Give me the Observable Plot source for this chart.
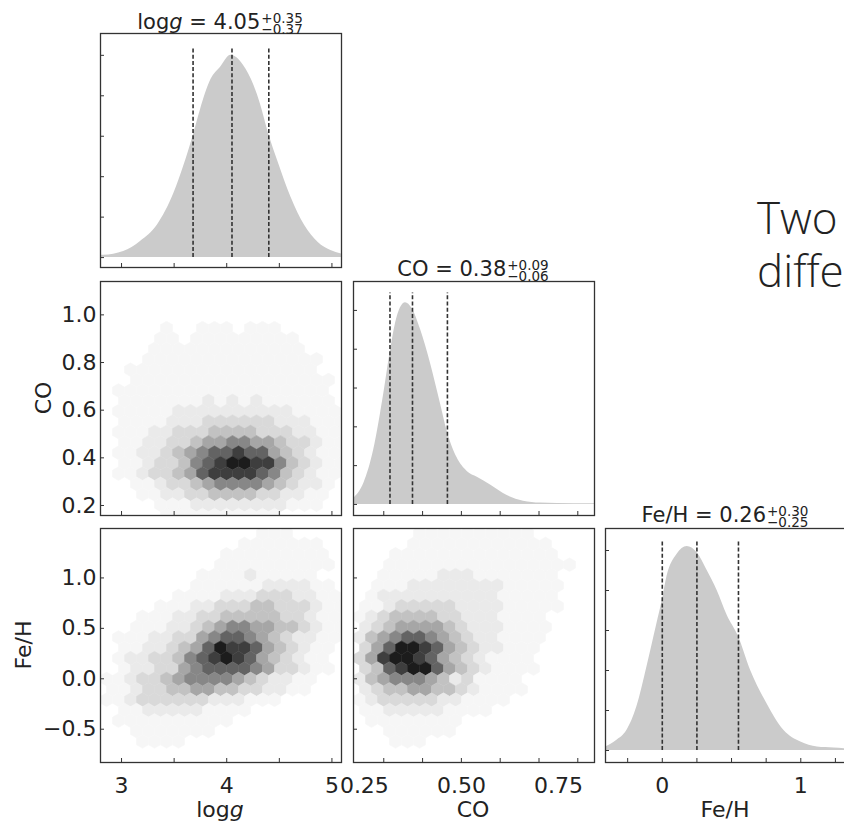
<!DOCTYPE html>
<html>
<head>
<meta charset="utf-8">
<script src="https://cdn.jsdelivr.net/npm/d3@7"></script>
<script src="https://cdn.jsdelivr.net/npm/@observablehq/plot@0.6"></script>
<style>
  html, body { margin: 0; padding: 0; background: #fff; }
  #fig { position: relative; width: 844px; height: 825px; overflow: hidden; font-family: "DejaVu Sans", sans-serif; color: #222; }
  .ttl { position: absolute; transform: translateX(-50%); font-size: 21px; line-height: 26px; white-space: nowrap; }
  .ss { display: inline-block; font-size: 13.5px; line-height: 11px; position: relative; top: 5px; margin-left: 1px; text-align: left; }
  .ss span { display: block; }
  .xl { position: absolute; transform: translateX(-50%); font-size: 22px; line-height: 26px; white-space: nowrap; top: 797px; }
  .yl { position: absolute; font-size: 22px; line-height: 26px; white-space: nowrap; transform: translate(-50%, -50%) rotate(-90deg); }
  .side { position: absolute; left: 757px; font-family: "Open Sans", sans-serif; font-weight: 300; font-size: 44px; line-height: 53px; color: #222; white-space: nowrap; }
</style>
</head>
<body>
<div id="fig"></div>
<script>
// ---------------- data ----------------
const paramNames = ["logg", "CO", "Fe/H"];
const medians = ["4.05", "0.38", "0.26"];
const plusErr = ["+0.35", "+0.09", "+0.30"];
const minusErr = ["\u22120.37", "\u22120.06", "\u22120.25"];

// marginal distributions (normalised density)
const loggHistX = [2.80, 2.83, 3.02, 3.18, 3.34, 3.50, 3.59, 3.68, 3.75, 3.85, 3.94, 4.04, 4.16, 4.26, 4.32, 4.40, 4.49, 4.61, 4.74, 4.87, 4.99, 5.09];
const loggHistY = [0.012, 0.012, 0.03, 0.08, 0.16, 0.32, 0.45, 0.60, 0.73, 0.88, 0.94, 1.00, 0.95, 0.85, 0.76, 0.61, 0.47, 0.30, 0.16, 0.075, 0.035, 0.018];
const coHistX = [0.222, 0.249, 0.274, 0.300, 0.317, 0.335, 0.356, 0.373, 0.395, 0.420, 0.446, 0.463, 0.489, 0.515, 0.541, 0.575, 0.618, 0.660, 0.704, 0.790, 0.843];
const coHistY = [0.03, 0.11, 0.28, 0.57, 0.79, 0.97, 1.04, 1.01, 0.90, 0.73, 0.52, 0.38, 0.24, 0.17, 0.14, 0.10, 0.046, 0.017, 0.007, 0.003, 0.003];
const fehHistX = [-0.41, -0.33, -0.256, -0.183, -0.11, -0.04, 0.0, 0.034, 0.106, 0.18, 0.25, 0.324, 0.396, 0.469, 0.55, 0.638, 0.759, 0.879, 1.0, 1.12, 1.24, 1.33];
const fehHistY = [0.017, 0.05, 0.10, 0.22, 0.42, 0.63, 0.75, 0.87, 0.98, 1.02, 0.99, 0.90, 0.80, 0.675, 0.57, 0.40, 0.23, 0.10, 0.042, 0.017, 0.012, 0.008];

// quantile lines (16/50/84 %) and their heights
const loggQuant = [3.68, 4.05, 4.40];
const coQuant = [0.316, 0.374, 0.464];
const fehQuant = [0.0, 0.25, 0.55];
const quantTop = [1.04, 1.09, 1.05];

// 2-D densities (0 = empty ... 9 = darkest), hexagonal cells, top row first
const coVsLogg = [
  "00000000000000000000",
  "00000000000000000000",
  "00000000000000000000",
  "00000000000000000000",
  "00000100111011100000",
  "00001101111111110000",
  "00001111111111111000",
  "00011111111111111100",
  "00111111111111111100",
  "00111111111111111110",
  "01111111111111111110",
  "01111111212121111110",
  "01111122222222221111",
  "01111222333333222111",
  "01112233344443332211",
  "01122334556655433211",
  "01122345677877543211",
  "01123346789988643211",
  "01123345788887643211",
  "00112334566665432210",
  "00011223344443322110",
  "00001112222222211100",
  "00000111111111100000"
];
const fehVsLogg = [
  "00000000000001110000",
  "00000000000111111100",
  "00000000001111111110",
  "00000000011111111110",
  "00000000111121111100",
  "00000001111112222110",
  "00000011112223332211",
  "00001112233344333211",
  "00011122334444433211",
  "00111223456655443211",
  "01112233567765432211",
  "01122345798875432110",
  "01223346789875432110",
  "01223356777765332110",
  "11233456666543221100",
  "11233445544332211000",
  "11233333322211100000",
  "01122222111100000000",
  "01111111111000000000",
  "00111111100000000000",
  "00011110000000000000",
  "00000000000000000000",
  "00000000000000000000"
];
const fehVsCo = [
  "00000111111111100000",
  "00001111111111110000",
  "00011111111111111000",
  "00111111111111111100",
  "00111112221111111000",
  "01112222222211111000",
  "01222222222211111000",
  "11233333222211111000",
  "12344443322211110000",
  "23455554322211110000",
  "24567765432211110000",
  "35799875432211100000",
  "35899875432111100000",
  "34789975432111100000",
  "24566654231111000000",
  "23445544321111000000",
  "12333332211110000000",
  "11222221111000000000",
  "01111111100000000000",
  "00111111000000000000",
  "00011100000000000000",
  "00000000000000000000",
  "00000000000000000000"
];
// grey tone of each density level 0..9
const densityLevels = [0, 1, 2, 3, 4, 5, 6, 7, 8, 9];
const densityGreys = ["#ffffff", "#f6f6f6", "#eaeaea", "#d9d9d9", "#c2c2c2", "#a6a6a6", "#878787", "#636363", "#3e3e3e", "#1c1c1c"];

// axes: domains, tick marks and tick labels
const loggDomain = [2.8, 5.091];
const coXDomain = [0.222, 0.843];
const fehXDomain = [-0.41, 1.33];
const coYDomain = [0.158, 1.14];
const fehYDomain = [-0.83, 1.49];
const loggHistYDomain = [-0.049, 1.108];
const coHistYDomain = [-0.057, 1.149];
const fehHistYDomain = [-0.06, 1.11];

const loggTicks = [3, 3.5, 4, 4.5, 5];
const loggLabels = [3, 4, 5];
const coXTicks = [0.3, 0.4, 0.5, 0.6, 0.7, 0.8];
const coXLabels = [0.25, 0.5, 0.75];
const fehXTicks = [-0.25, 0, 0.25, 0.5, 0.75, 1, 1.25];
const fehXLabels = [0, 1];
const coYTicks = [0.2, 0.4, 0.6, 0.8, 1.0];
const fehYTicks = [-0.5, 0, 0.5, 1.0];
const histYTicks = [0, 0.2, 0.4, 0.6, 0.8, 1.0];

// ---------------- layout ----------------
const W = 241, H = 234;
const colX = [100, 353, 605], rowY = [33, 281, 528];
const mL = 80, mR = 10, mT = 10, mB = 50;
const HEX = 12, HEX_ROW = HEX * Math.sqrt(3) / 2;
const fig = document.getElementById("fig");
const INK = "#333";

function gridCells(rows, xDomain, yDomain) {
  const kx = (xDomain[1] - xDomain[0]) / W, ky = (yDomain[1] - yDomain[0]) / H;
  const cells = [];
  rows.forEach((s, r) => [...s].forEach((ch, c) => {
    const v = +ch;
    if (!v) return;
    cells.push({
      x: xDomain[0] + (HEX / 2 + HEX * (c + (r % 2) / 2)) * kx,
      y: yDomain[1] - (5 + HEX_ROW * r) * ky,
      v
    });
  }));
  return cells;
}

function histMarks(xs, ys, quant, top) {
  const data = xs.map((x, i) => ({x, y: ys[i]}));
  return [
    Plot.areaY(data, {x: "x", y: "y", fill: "#cbcbcb", curve: "monotone-x", clip: true}),
    Plot.ruleX(quant, {x: d => d, y1: 0, y2: top, stroke: INK, strokeWidth: 1.6, strokeDasharray: "4,2.2"})
  ];
}

function hexMarks(rows, xDomain, yDomain) {
  return [Plot.dot(gridCells(rows, xDomain, yDomain), {
    x: "x", y: "y", fill: "v", stroke: "v", strokeWidth: 0.5,
    symbol: "hexagon", r: HEX / 2, clip: true
  })];
}

function panel({col, row, xDomain, yDomain, xTicks, yTicks, xLabels, yLabels, xFmt, yFmt, marks}) {
  const p = Plot.plot({
    width: W + mL + mR, height: H + mT + mB,
    marginLeft: mL, marginRight: mR, marginTop: mT, marginBottom: mB,
    x: {domain: xDomain, axis: null},
    y: {domain: yDomain, axis: null},
    r: {type: "identity"},
    color: {type: "linear", domain: densityLevels, range: densityGreys, interpolate: "rgb"},
    style: {fontFamily: "DejaVu Sans", fontSize: "22px", color: "#222", background: "transparent", overflow: "visible"},
    marks: [
      ...marks,
      Plot.tickX(xTicks, {x: d => d, insetTop: H - 4, stroke: INK, strokeWidth: 1}),
      Plot.tickY(yTicks, {y: d => d, insetRight: W - 4, stroke: INK, strokeWidth: 1}),
      xLabels ? Plot.axisX(xLabels, {tickSize: 0, tickPadding: 15, tickFormat: xFmt, label: null}) : null,
      yLabels ? Plot.axisY(yLabels, {tickSize: 0, tickPadding: 4, tickFormat: yFmt, label: null}) : null,
      Plot.frame({stroke: INK, strokeWidth: 1.3})
    ]
  });
  p.style.position = "absolute";
  p.style.left = (colX[col] - mL) + "px";
  p.style.top = (rowY[row] - mT) + "px";
  fig.appendChild(p);
}

const f1 = d3.format(".1f"), f2 = d3.format(".2f"), fi = d3.format("d");

// diagonal: marginals
panel({col: 0, row: 0, xDomain: loggDomain, yDomain: loggHistYDomain, xTicks: loggTicks, yTicks: histYTicks,
  marks: histMarks(loggHistX, loggHistY, loggQuant, quantTop[0])});
panel({col: 1, row: 1, xDomain: coXDomain, yDomain: coHistYDomain, xTicks: coXTicks, yTicks: histYTicks,
  marks: histMarks(coHistX, coHistY, coQuant, quantTop[1])});
panel({col: 2, row: 2, xDomain: fehXDomain, yDomain: fehHistYDomain, xTicks: fehXTicks, yTicks: histYTicks,
  xLabels: fehXLabels, xFmt: fi,
  marks: histMarks(fehHistX, fehHistY, fehQuant, quantTop[2])});

// off-diagonal: 2-D densities
panel({col: 0, row: 1, xDomain: loggDomain, yDomain: coYDomain, xTicks: loggTicks, yTicks: coYTicks,
  yLabels: coYTicks, yFmt: f1, marks: hexMarks(coVsLogg, loggDomain, coYDomain)});
panel({col: 0, row: 2, xDomain: loggDomain, yDomain: fehYDomain, xTicks: loggTicks, yTicks: fehYTicks,
  xLabels: loggLabels, xFmt: fi, yLabels: fehYTicks, yFmt: f1, marks: hexMarks(fehVsLogg, loggDomain, fehYDomain)});
panel({col: 1, row: 2, xDomain: coXDomain, yDomain: fehYDomain, xTicks: coXTicks, yTicks: fehYTicks,
  xLabels: coXLabels, xFmt: f2, marks: hexMarks(fehVsCo, coXDomain, fehYDomain)});

// ---------------- texts ----------------
function labelHtml(name) {
  return name === "logg" ? "log<i>g</i>" : name;
}
const titleCenters = [220, 473, 725];
const titleTops = [8, 255, 501];
paramNames.forEach((name, i) => {
  const t = document.createElement("div");
  t.className = "ttl";
  t.style.left = titleCenters[i] + "px";
  t.style.top = titleTops[i] + "px";
  t.innerHTML = `${labelHtml(name)} = ${medians[i]}<span class="ss"><span>${plusErr[i]}</span><span>${minusErr[i]}</span></span>`;
  fig.appendChild(t);

  const xl = document.createElement("div");
  xl.className = "xl";
  xl.style.left = titleCenters[i] + "px";
  xl.innerHTML = labelHtml(name);
  fig.appendChild(xl);
});
const yLabelPos = [[44, 398, "CO"], [24, 645, "Fe/H"]];
yLabelPos.forEach(([x, y, name]) => {
  const d = document.createElement("div");
  d.className = "yl";
  d.style.left = x + "px";
  d.style.top = y + "px";
  d.textContent = name;
  fig.appendChild(d);
});
const sideLines = ["Two", "different"];
sideLines.forEach((s, i) => {
  const d = document.createElement("div");
  d.className = "side";
  d.style.top = (191 + 53 * i) + "px";
  d.textContent = s;
  fig.appendChild(d);
});
</script>
</body>
</html>
